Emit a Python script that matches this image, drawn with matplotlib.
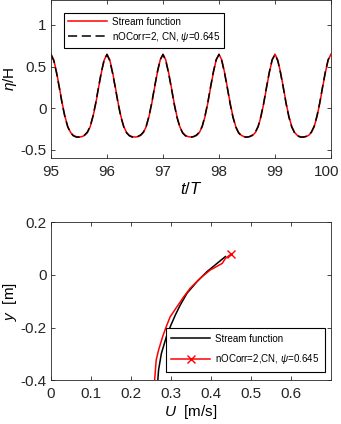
import matplotlib
matplotlib.use('Agg')
import matplotlib.pyplot as plt
import matplotlib.transforms as mtransforms
import numpy as np

plt.rcParams['font.family'] = ['Liberation Sans', 'DejaVu Sans']
plt.rcParams['mathtext.fontset'] = 'custom'
plt.rcParams['mathtext.it'] = 'Liberation Sans:italic'
plt.rcParams['mathtext.rm'] = 'Liberation Sans'

# surface elevation over one wave period (phase 0 .. 1)
phase = [0.0, 0.05, 0.10, 0.15, 0.20, 0.25, 0.30, 0.35, 0.40, 0.45, 0.50,
         0.55, 0.60, 0.65, 0.70, 0.75, 0.80, 0.85, 0.90, 0.95]
eta_stream = [0.65, 0.58, 0.43, 0.25, 0.06, -0.10, -0.22, -0.29, -0.325, -0.34, -0.345,
              -0.34, -0.325, -0.29, -0.22, -0.10, 0.06, 0.25, 0.43, 0.58]
eta_num = [0.645, 0.57, 0.42, 0.24, 0.05, -0.11, -0.225, -0.295, -0.33, -0.345, -0.345,
           -0.338, -0.32, -0.285, -0.215, -0.09, 0.07, 0.26, 0.44, 0.585]
periods = [95, 96, 97, 98, 99]

# velocity profiles under the crest
y_stream = [-0.4, -0.36, -0.298, -0.232, -0.19, -0.152, -0.115, -0.07, -0.026, 0.012, 0.043, 0.069]
u_stream = [0.267, 0.269, 0.276, 0.289, 0.300, 0.311, 0.323, 0.340, 0.365, 0.390, 0.415, 0.436]
y_num = [-0.4, -0.323, -0.285, -0.235, -0.197, -0.159, -0.121, -0.083, -0.051, -0.013,
         0.018, 0.043, 0.062, 0.077]
u_num = [0.259, 0.263, 0.269, 0.279, 0.288, 0.298, 0.315, 0.332, 0.348, 0.373,
         0.398, 0.428, 0.436, 0.449]

t = np.concatenate([p + np.array(phase) for p in periods] + [[100.0]])
e1 = np.array(eta_stream * len(periods) + [eta_stream[0]])
e2 = np.array(eta_num * len(periods) + [eta_num[0]])

axc = '#262626'
fig = plt.figure(figsize=(3.41, 4.24), dpi=100)

ax1 = fig.add_axes([0.1496, 0.6266, 0.821, 0.3734])
ax1.plot(t, e1, color='red', lw=1.1, label='Stream function')
ax1.plot(t, e2, color='black', lw=1.1, ls=(0, (6, 3)), label=r'nOCorr=2, CN, $\psi$=0.645')
ax1.set_xlim(95, 100)
ax1.set_ylim(-0.6, 1.3)
ax1.set_xticks([95, 96, 97, 98, 99, 100])
ax1.set_yticks([-0.5, 0, 0.5, 1])
ax1.set_yticklabels(['-0.5', '0', '0.5', '1'])
ax1.set_xlabel(r'$t/T$', fontsize=12, labelpad=1)
ax1.set_ylabel(r'$\eta$/H', fontsize=11, labelpad=1)
leg1 = ax1.legend(loc='upper left', bbox_to_anchor=(0.046, 0.918), fontsize=7.1,
                  fancybox=False, edgecolor='black', framealpha=1,
                  handlelength=4, handletextpad=0.5, borderpad=0.4,
                  labelspacing=0.3, borderaxespad=0)
leg1.get_frame().set_linewidth(0.8)

ax2 = fig.add_axes([0.1496, 0.103, 0.821, 0.3734])
ax2.plot(u_stream, y_stream, color='black', lw=1.1, label='Stream function')
ax2.plot(u_num, y_num, color='red', lw=1.1, marker='x', markevery=[len(u_num) - 1],
         markersize=6, label=r'nOCorr=2,CN, $\psi$=0.645')
ax2.set_xlim(0, 0.7)
ax2.set_ylim(-0.4, 0.2)
ax2.set_xticks([0, 0.1, 0.2, 0.3, 0.4, 0.5, 0.6])
ax2.set_xticklabels(['0', '0.1', '0.2', '0.3', '0.4', '0.5', '0.6'])
ax2.set_yticks([-0.4, -0.2, 0, 0.2])
ax2.set_yticklabels(['-0.4', '-0.2', '0', '0.2'])
ax2.set_xlabel(r'$U$  [m/s]', fontsize=11, labelpad=1)
ax2.set_ylabel(r'$y$  [m]', fontsize=11, labelpad=1)
leg2 = ax2.legend(loc='lower right', bbox_to_anchor=(0.979, 0.052), fontsize=7.0,
                  fancybox=False, edgecolor='black', framealpha=1,
                  handlelength=4, handletextpad=0.5, borderpad=0.6,
                  labelspacing=0.9, borderaxespad=0)
leg2.get_frame().set_linewidth(0.8)

for ax in (ax1, ax2):
    ax.tick_params(direction='in', top=True, right=True, labelsize=11,
                   colors=axc, length=3, width=0.6)
    ax.tick_params(axis='x', pad=5)
    ax.tick_params(axis='y', pad=3)
    for s in ax.spines.values():
        s.set_color(axc)
        s.set_linewidth(0.6)

# keep the last tick label inside the figure, as in the original
lab = ax1.get_xticklabels()[-1]
lab.set_transform(lab.get_transform() + mtransforms.ScaledTranslation(-4.5 / 100, 0, fig.dpi_scale_trans))

fig.savefig('out.png', dpi=100)
